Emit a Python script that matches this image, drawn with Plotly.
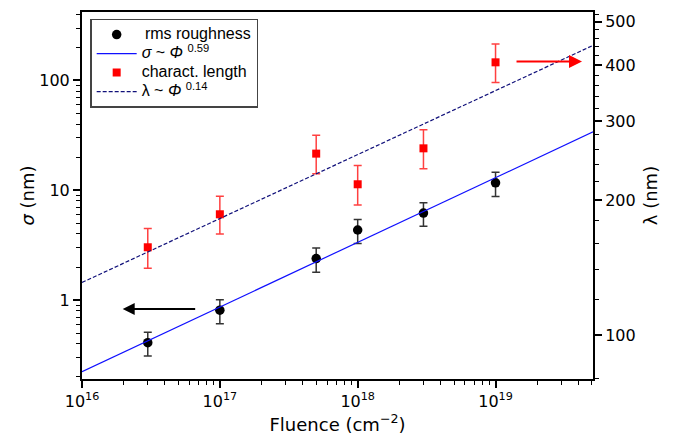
import plotly.graph_objects as go

# ---- data ----
fluence = [3e16, 1e17, 5e17, 1e18, 3e18, 1e19]
sigma = [0.41, 0.81, 2.39, 4.35, 6.2, 11.7]
sigma_err = [0.10, 0.20, 0.60, 1.08, 1.5, 2.9]
lam = [157, 186, 254, 217, 261, 406]
lam_err = [16, 18, 25, 22, 26, 40]

fit_x = [1e16, 5.1e19]
sigma_fit = [0.223, 34]
lam_fit = [131, 443]

x_tickvals = [1e16, 1e17, 1e18, 1e19]
x_ticktext = ["10<sup>16</sup>", "10<sup>17</sup>", "10<sup>18</sup>", "10<sup>19</sup>"]
x_minor = [float(m) * 10.0 ** e for e in range(16, 20) for m in range(2, 10)]
y_tickvals = [1, 10, 100]
y_ticktext = ["1", "10", "100"]
y_minor = [float(m) * 10.0 ** e for e in range(-1, 3) for m in range(2, 10)]
y2_tickvals = [100, 200, 300, 400, 500]
y2_ticktext = ["100", "200", "300", "400", "500"]
y2_minor = [v for v in range(80, 540, 20) if v % 100 != 0]

TICKFONT = dict(family="DejaVu Sans", size=16, color="black")
TITLEFONT = dict(family="DejaVu Sans", size=18, color="black")


def big(s):
    return "<span style='font-size:16px'>" + s + "</span>"


fig = go.Figure()
fig.add_trace(go.Scatter(
    x=fluence, y=sigma, mode="markers", name=big("\u2009rms roughness"),
    marker=dict(symbol="circle", size=9.5, color="black"),
    error_y=dict(type="data", array=sigma_err, color="#333333", thickness=1.5, width=4),
    yaxis="y"))
fig.add_trace(go.Scatter(
    x=fit_x, y=sigma_fit, mode="lines", name=big("<i>σ</i> ~ <i>Φ</i> <sup>0.59</sup>"),
    line=dict(color="#1010ff", width=1.2), yaxis="y"))
fig.add_trace(go.Scatter(
    x=fluence, y=lam, mode="markers", name=big("charact. length"),
    marker=dict(symbol="square", size=8, color="#ff0000"),
    error_y=dict(type="data", array=lam_err, color="#ff4040", thickness=1.5, width=4),
    yaxis="y2"))
fig.add_trace(go.Scatter(
    x=fit_x, y=lam_fit, mode="lines", name=big("λ ~ <i>Φ</i> <sup>0.14</sup>"),
    line=dict(color="#10107a", width=1.2, dash="4px,2px"), yaxis="y2"))

axis_common = dict(showline=True, linecolor="black", linewidth=2, ticks="outside",
                   tickcolor="black", tickwidth=1.5, ticklen=7, showgrid=False,
                   zeroline=False, tickfont=TICKFONT, automargin=False)

# the page body adds an 8px margin, so the figure is sized/margined to compensate
fig.update_layout(
    width=675, height=429,
    margin=dict(l=74, r=90, t=4, b=58),
    paper_bgcolor="white", plot_bgcolor="white",
    showlegend=True,
    legend=dict(x=0.016, y=0.982, xanchor="left", yanchor="top",
                bgcolor="white", bordercolor="#444444", borderwidth=1.5,
                itemwidth=40,
                font=dict(family="Liberation Sans, Arial", size=12, color="black"),
                tracegroupgap=0),
    xaxis=dict(type="log", range=[16, 19.707], mirror=True,
               tickvals=x_tickvals, ticktext=x_ticktext,
               minor=dict(tickvals=x_minor, ticks="outside", ticklen=4,
                          tickwidth=1.2, tickcolor="black"),
               title=dict(text="Fluence (cm<sup>−2</sup>)", font=TITLEFONT, standoff=8),
               **axis_common),
    yaxis=dict(type="log", range=[-0.718, 2.623],
               tickvals=y_tickvals, ticktext=y_ticktext,
               minor=dict(tickvals=y_minor, ticks="outside", ticklen=4,
                          tickwidth=1.2, tickcolor="black"),
               title=dict(text="<i>σ</i> (nm)", font=TITLEFONT, standoff=0),
               **axis_common),
    yaxis2=dict(type="log", range=[1.902, 2.7208], overlaying="y", side="right",
                tickvals=y2_tickvals, ticktext=y2_ticktext,
                minor=dict(tickvals=y2_minor, ticks="outside", ticklen=4,
                           tickwidth=1.2, tickcolor="black"),
                title=dict(text="λ (nm)", font=TITLEFONT, standoff=10),
                **axis_common),
    annotations=[
        dict(x=0.0796, y=0.1905, xref="paper", yref="paper", text="",
             showarrow=True, ax=74, ay=0, axref="pixel", ayref="pixel",
             arrowhead=2, arrowsize=1.2, arrowwidth=2, arrowcolor="black"),
        dict(x=0.9785, y=0.8653, xref="paper", yref="paper", text="",
             showarrow=True, ax=-67, ay=0, axref="pixel", ayref="pixel",
             arrowhead=2, arrowsize=1.3, arrowwidth=2, arrowcolor="#ff0000"),
    ],
)

fig.write_html("out.html")
